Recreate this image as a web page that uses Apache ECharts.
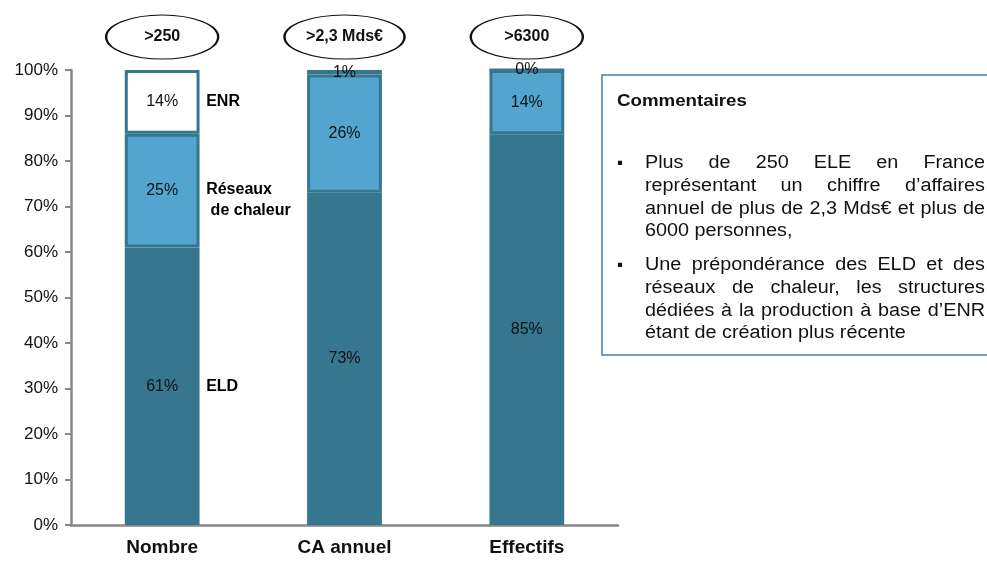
<!DOCTYPE html>
<html>
<head>
<meta charset="utf-8">
<script src="https://cdn.jsdelivr.net/npm/echarts@6/dist/echarts.min.js"></script>
<style>
html,body{margin:0;padding:0;background:#fff;}
#chart{width:987px;height:563px;}
</style>
</head>
<body>
<div id="chart"></div>
<script>
// ---- data ----
var categories = ['Nombre', 'CA annuel', 'Effectifs'];
var eld = [61, 73, 85];
var reseaux = [25, 26, 14];
var enr = [14, 1, 0];
var seriesNames = ['ELD', 'Réseaux\n de chaleur', 'ENR'];
var totals = ['>250', '>2,3 Mds€', '>6300'];
var yTicks = [0, 10, 20, 30, 40, 50, 60, 70, 80, 90, 100];
var commentTitle = 'Commentaires';
var comment1 = ['Plus de 250 ELE en France', 'représentant un chiffre d’affaires', 'annuel de plus de 2,3 Mds€ et plus de', '6000 personnes,'];
var comment2 = ['Une prépondérance des ELD et des', 'réseaux de chaleur, les structures', 'dédiées à la production à base d’ENR', 'étant de création plus récente'];

// ---- styling ----
var FONT = '"Liberation Sans", Arial, sans-serif';
var DARK = '#36778F';
var LIGHT = '#53A5D0';
var BORDER = '#36768E';

// normalise to 100% stacks
var raw = [eld, reseaux, enr];
var sums = categories.map(function (c, i) { return eld[i] + reseaux[i] + enr[i]; });
var norm = raw.map(function (arr) { return arr.map(function (v, i) { return v / sums[i] * 100; }); });

function pctLabel(arr) {
  return function (p) { return arr[p.dataIndex] + '%'; };
}

// label positions for the "legend" next to the first bar (segment middles)
var mids = [];
var acc = 0;
for (var s = 0; s < 3; s++) {
  mids.push(acc + norm[s][0] / 2);
  acc += norm[s][0];
}

var barCommon = {
  type: 'bar',
  stack: 'total',
  barWidth: '41%',
  emphasis: { disabled: true }
};

var chart = echarts.init(document.getElementById('chart'), null, { renderer: 'canvas' });

// comment box texts (justified lines)
var graphics = [];
var ctx = document.createElement('canvas').getContext('2d');
var CFS = 18;
var SX = 1.1;
ctx.font = CFS + 'px ' + FONT;
var textLeft = 645, textRight = 985;
function txt(x, y, s, font) {
  return { type: 'text', x: x, y: y, scaleX: SX,
    style: { text: s, font: font, fill: '#111', verticalAlign: 'middle' } };
}
function addPara(lines, y0, lh) {
  lines.forEach(function (line, li) {
    var y = y0 + li * lh;
    var words = line.split(' ');
    if (li === lines.length - 1) {
      graphics.push(txt(textLeft, y, line, CFS + 'px ' + FONT));
      return;
    }
    var wsum = 0;
    words.forEach(function (w) { wsum += ctx.measureText(w).width * SX; });
    var gap = (textRight - textLeft - wsum) / (words.length - 1);
    var x = textLeft;
    words.forEach(function (w) {
      graphics.push(txt(x, y, w, CFS + 'px ' + FONT));
      x += ctx.measureText(w).width * SX + gap;
    });
  });
  graphics.push({ type: 'text', x: 617, y: y0,
    style: { text: '▪', font: '17px ' + FONT, fill: '#111', verticalAlign: 'middle' } });
}
graphics.push({ type: 'rect', shape: { x: 602, y: 75, width: 420, height: 280 },
  style: { fill: 'none', stroke: '#4A80A2', lineWidth: 1.5 }, silent: true });
graphics.push(txt(617, 101, commentTitle, 'bold 17px ' + FONT));
addPara(comment1, 163, 22.8);
addPara(comment2, 265, 22.8);

var option = {
  animation: false,
  backgroundColor: '#fff',
  grid: { left: 71, right: 369, top: 70, bottom: 38 },
  xAxis: {
    type: 'category',
    data: categories,
    axisLine: { lineStyle: { color: '#878787', width: 2.5 } },
    axisTick: { show: false },
    axisLabel: { color: '#111', fontFamily: FONT, fontWeight: 'bold', fontSize: 19, margin: 13 }
  },
  yAxis: {
    type: 'value',
    min: yTicks[0],
    max: yTicks[yTicks.length - 1],
    interval: yTicks[1] - yTicks[0],
    axisLine: { show: true, lineStyle: { color: '#878787', width: 2.5 } },
    axisTick: { show: true, length: 6, lineStyle: { color: '#878787', width: 2 } },
    splitLine: { show: false },
    axisLabel: { color: '#111', fontFamily: FONT, fontSize: 17, margin: 13, formatter: '{value}%' }
  },
  series: [
    Object.assign({}, barCommon, {
      name: 'ELD', data: norm[0],
      itemStyle: { color: DARK, borderColor: BORDER, borderWidth: 3 },
      label: { show: true, position: 'inside', color: '#111', fontFamily: FONT, fontSize: 16, formatter: pctLabel(eld) }
    }),
    Object.assign({}, barCommon, {
      name: 'Réseaux de chaleur', data: norm[1],
      itemStyle: { color: LIGHT, borderColor: BORDER, borderWidth: 3 },
      label: { show: true, position: 'inside', color: '#111', fontFamily: FONT, fontSize: 16, formatter: pctLabel(reseaux) }
    }),
    Object.assign({}, barCommon, {
      name: 'ENR', data: norm[2],
      itemStyle: { color: '#fff', borderColor: BORDER, borderWidth: 3 },
      label: { show: true, position: 'inside', color: '#111', fontFamily: FONT, fontSize: 16, formatter: pctLabel(enr) },
      markPoint: {
        symbol: 'circle',
        symbolOffset: [0, -33],
        itemStyle: { color: '#fff', borderColor: '#111', borderWidth: 1.5 },
        label: { show: true, position: 'inside', color: '#111', fontFamily: FONT, fontWeight: 'bold', fontSize: 16 },
        data: categories.map(function (c, i) {
          return { coord: [c, 100], value: totals[i], symbolSize: [i === 1 ? 120 : 112, 44],
                   label: { formatter: totals[i] } };
        })
      }
    }),
    {
      type: 'scatter',
      symbolSize: 0,
      silent: true,
      z: 5,
      itemStyle: { opacity: 1 },
      data: mids.map(function (m, i) {
        return { value: [categories[0], m], label: { formatter: seriesNames[i], offset: i === 1 ? [39, 10] : [39, 0] } };
      }),
      label: { show: true, position: 'right', color: '#000', fontFamily: FONT, fontWeight: 'bold', fontSize: 16, lineHeight: 21 }
    }
  ],
  graphic: graphics
};
chart.setOption(option);
</script>
</body>
</html>
